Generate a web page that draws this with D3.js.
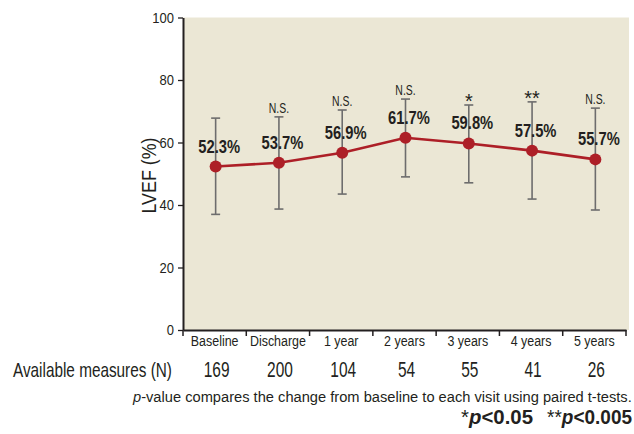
<!DOCTYPE html>
<html>
<head>
<meta charset="utf-8">
<script src="https://cdn.jsdelivr.net/npm/d3@7"></script>
<style>
  body { margin: 0; background: #fff; }
  svg { display: block; font-family: "Liberation Sans", Arial, sans-serif; }
</style>
</head>
<body>
<div id="chart"></div>
<script>
// data
var categories = ["Baseline", "Discharge", "1 year", "2 years", "3 years", "4 years", "5 years"];
var means = [52.3, 53.5, 56.7, 61.5, 59.7, 57.4, 54.6];
var meanLabels = ["52.3%", "53.7%", "56.9%", "61.7%", "59.8%", "57.5%", "55.7%"];
var errTop = [67.8, 68.2, 70.4, 73.9, 72.0, 73.0, 71.0];
var errBottom = [37.0, 38.7, 43.5, 49.0, 47.1, 41.9, 38.4];
var signif = ["", "N.S.", "N.S.", "N.S.", "*", "**", "N.S."];
var counts = [169, 200, 104, 54, 55, 41, 26];
var yTicks = [0, 20, 40, 60, 80, 100];

var width = 634, height = 434;
var ink = "#231f20";

var svg = d3.select("#chart")
  .append("svg")
  .attr("width", width)
  .attr("height", height);

// the original uses a condensed face: squeeze Liberation Sans horizontally
function condense(sel, k) {
  sel.each(function (d, i) {
    var t = d3.select(this);
    var kk = typeof k === "function" ? k.call(this, d, i) : k;
    var tx = +t.attr("x") || 0, ty = +t.attr("y") || 0;
    t.attr("x", 0).attr("y", 0)
      .attr("transform", "translate(" + tx + "," + ty + ") scale(" + kk + ",1)");
  });
}
function fit(w) {
  return function () { return w / this.getComputedTextLength(); };
}

var x = d3.scaleBand().domain(categories).range([183, 626]).padding(0);
var y = d3.scaleLinear().domain([0, 100]).range([330, 17.5]);

function cx(c) { return x(c) + x.bandwidth() / 2 + 1; }

// plot background
svg.append("rect")
  .attr("x", 183)
  .attr("y", y(100))
  .attr("width", 629 - 183)
  .attr("height", y(0) - y(100))
  .attr("fill", "#ebe7d5");

// y axis
var yAxis = svg.append("g")
  .attr("transform", "translate(183,0)")
  .call(d3.axisLeft(y).tickValues(yTicks).tickSize(5).tickSizeOuter(0).tickPadding(4));
yAxis.attr("font-family", null).attr("font-size", null);
yAxis.select(".domain").attr("stroke", ink).attr("stroke-width", 2);
yAxis.selectAll(".tick line").attr("stroke", ink).attr("stroke-width", 1.3);
yAxis.selectAll(".tick text")
  .attr("font-size", 15.5)
  .attr("fill", ink)
  .call(condense, 0.84);

svg.append("text")
  .attr("text-anchor", "middle")
  .attr("font-size", 20.5)
  .attr("fill", ink)
  .text("LVEF (%)")
  .each(function () {
    var k = 76 / this.getComputedTextLength();
    d3.select(this)
      .attr("transform", "translate(155.5,175.5) rotate(-90) scale(" + k + ",1)");
  });

// x axis
var xAxis = svg.append("g")
  .attr("transform", "translate(0," + y(0) + ")")
  .call(d3.axisBottom(x).tickSize(0).tickPadding(5));
xAxis.attr("font-family", null).attr("font-size", null);
xAxis.select(".domain").attr("stroke", ink).attr("stroke-width", 2);
xAxis.selectAll(".tick text")
  .attr("font-size", 15)
  .attr("fill", ink)
  .call(condense, 0.83);

var edges = categories.map(function (c) { return x(c); }).concat([x.range()[1]]);
svg.append("g")
  .selectAll("line")
  .data(edges)
  .enter()
  .append("line")
  .attr("x1", function (d) { return d; })
  .attr("x2", function (d) { return d; })
  .attr("y1", y(0))
  .attr("y2", y(0) + 6)
  .attr("stroke", ink)
  .attr("stroke-width", 1.5);

// error bars
var rows = categories.map(function (c, i) {
  return { cat: c, mean: means[i], label: meanLabels[i], top: errTop[i], bottom: errBottom[i], sig: signif[i], n: counts[i] };
});

var bars = svg.append("g").attr("stroke", "#6d6d6d").attr("stroke-width", 1.6);
bars.selectAll(".stem")
  .data(rows)
  .enter()
  .append("line")
  .attr("x1", function (d) { return cx(d.cat); })
  .attr("x2", function (d) { return cx(d.cat); })
  .attr("y1", function (d) { return y(d.top); })
  .attr("y2", function (d) { return y(d.bottom); });
["top", "bottom"].forEach(function (k) {
  bars.selectAll(".cap-" + k)
    .data(rows)
    .enter()
    .append("line")
    .attr("x1", function (d) { return cx(d.cat) - 4.5; })
    .attr("x2", function (d) { return cx(d.cat) + 4.5; })
    .attr("y1", function (d) { return y(d[k]); })
    .attr("y2", function (d) { return y(d[k]); });
});

// mean line + points
var line = d3.line()
  .x(function (d) { return cx(d.cat); })
  .y(function (d) { return y(d.mean); });

svg.append("path")
  .datum(rows)
  .attr("d", line)
  .attr("fill", "none")
  .attr("stroke", "#ad1f27")
  .attr("stroke-width", 2.6);

svg.selectAll(".dot")
  .data(rows)
  .enter()
  .append("circle")
  .attr("cx", function (d) { return cx(d.cat); })
  .attr("cy", function (d) { return y(d.mean); })
  .attr("r", 6)
  .attr("fill", "#ad1f27");

// mean labels
svg.selectAll(".mean-label")
  .data(rows)
  .enter()
  .append("text")
  .attr("x", function (d) { return cx(d.cat) + 3.5; })
  .attr("y", function (d) { return y(d.mean) - 14; })
  .attr("text-anchor", "middle")
  .attr("font-size", 18)
  .attr("font-weight", "bold")
  .attr("fill", ink)
  .text(function (d) { return d.label; })
  .call(condense, 0.82);

// significance marks
svg.selectAll(".sig")
  .data(rows.filter(function (d) { return d.sig; }))
  .enter()
  .append("text")
  .attr("x", function (d) { return cx(d.cat); })
  .attr("y", function (d) { return y(d.top) - (d.sig === "N.S." ? 4 : -3); })
  .attr("text-anchor", "middle")
  .attr("font-size", function (d) { return d.sig === "N.S." ? 14.5 : 21; })
  .attr("fill", ink)
  .text(function (d) { return d.sig; })
  .call(condense, function (d) { return d.sig === "N.S." ? 0.72 : 0.95; });

// available measures row
svg.append("text")
  .attr("x", 13)
  .attr("y", 377)
  .attr("font-size", 21)
  .attr("fill", ink)
  .text("Available measures (N)")
  .call(condense, fit(159));

svg.selectAll(".count")
  .data(rows)
  .enter()
  .append("text")
  .attr("x", function (d) { return cx(d.cat) + 1; })
  .attr("y", 377)
  .attr("text-anchor", "middle")
  .attr("font-size", 21.5)
  .attr("fill", ink)
  .text(function (d) { return d.n; })
  .call(condense, 0.72);

// footnotes
var note = svg.append("text")
  .attr("x", 133)
  .attr("y", 402)
  .attr("font-size", 15)
  .attr("fill", ink);
note.append("tspan").attr("font-style", "italic").text("p");
note.append("tspan").text("-value compares the change from baseline to each visit using paired t-tests.");
note.call(condense, fit(499));

var key1 = svg.append("text")
  .attr("x", 461)
  .attr("y", 424)
  .attr("font-size", 20)
  .attr("font-weight", "bold")
  .attr("fill", ink);
key1.append("tspan").attr("font-weight", "normal").text("*");
key1.append("tspan").attr("font-style", "italic").text("p");
key1.append("tspan").text("<0.05");
key1.call(condense, fit(72));

var key2 = svg.append("text")
  .attr("x", 547)
  .attr("y", 424)
  .attr("font-size", 20)
  .attr("font-weight", "bold")
  .attr("fill", ink);
key2.append("tspan").attr("font-weight", "normal").text("**");
key2.append("tspan").attr("font-style", "italic").text("p");
key2.append("tspan").text("<0.005");
key2.call(condense, fit(85));
</script>
</body>
</html>
